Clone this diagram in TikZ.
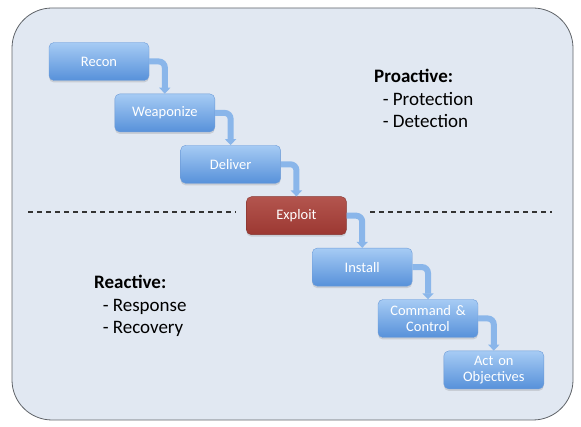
\documentclass[tikz,border=0pt]{standalone}
\usepackage{fontspec}
\setmainfont{Carlito}
\usetikzlibrary{arrows.meta,positioning,shadows}
\definecolor{panelbg}{HTML}{E1E8F2}
\definecolor{panelline}{HTML}{5F6368}
\definecolor{stagetop}{HTML}{A6CBF4}
\definecolor{stagebot}{HTML}{5791DA}
\definecolor{stageline}{HTML}{6E9CD8}
\definecolor{hittop}{HTML}{B3554E}
\definecolor{hitbot}{HTML}{9C3832}
\definecolor{hitline}{HTML}{873530}
\definecolor{pilblue}{HTML}{8AB6EA}
\tikzset{
    %Define standard arrow tip
    >={Triangle[width=11pt,length=6pt]},
    %Define style for boxes
    stage/.style={
           rectangle,
           rounded corners=5pt,
           draw=stageline, thin,
           top color=stagetop, bottom color=stagebot,
           drop shadow={shadow xshift=0pt, shadow yshift=-2pt, opacity=0.25},
           minimum width=100pt,
           minimum height=38pt,
           text width=96pt,
           inner sep=0pt,
           font=\fontsize{14.5}{16}\selectfont,
           text=white,
           align=center},
    hit/.style={
           stage,
           draw=hitline,
           top color=hittop, bottom color=hitbot},
    note/.style={
           anchor=north west,
           inner sep=0pt,
           align=left,
           font=\fontsize{19}{22.5}\selectfont},
    % Define arrow style
    pil/.style={
           ->,
           line width=6pt,
           draw=pilblue,
           rounded corners=6pt},
    cut/.style={
           line width=1.5pt,
           draw=black!80,
           dash pattern=on 5pt off 4pt}
}
\begin{document}
\begin{tikzpicture}[x=1pt,y=1pt,node distance=13pt and -34.6pt]
\useasboundingbox (0,0) rectangle (581,-427);
 %panel
\draw[fill=panelbg, draw=panelline, line width=0.8pt, rounded corners=40pt]
  (12,-8) rectangle (573,-420);
 %nodes
\node[stage] (recon) at (99,-61.5) {Recon};
\node[stage, below right=of recon] (weapon) {Weaponize};
\node[stage, below right=of weapon] (deliver) {Deliver};
\node[hit, below right=of deliver] (exploit) {Exploit};
\node[stage, below right=of exploit] (install) {Install};
\node[stage, below right=of install] (control) {Command \&\\Control};
\node[stage, below right=of control] (act) {Act on\\Objectives};
 %arrows
\draw[pil] (recon.east) -| (weapon.north);
\draw[pil] (weapon.east) -| (deliver.north);
\draw[pil] (deliver.east) -| (exploit.north);
\draw[pil] (exploit.east) -| (install.north);
\draw[pil] (install.east) -| (control.north);
\draw[pil] (control.east) -| (act.north);
 %split
\draw[cut] (28,-212) -- (236,-212);
\draw[cut] (370,-212) -- (552,-212);
 %notes
\node[note] (proactive) at (374,-69)
  {\textbf{Proactive:}\\\hspace{0.45em}- Protection\\\hspace{0.45em}- Detection};
\node[note] (reactive) at (94,-275)
  {\textbf{Reactive:}\\\hspace{0.45em}- Response\\\hspace{0.45em}- Recovery};
\end{tikzpicture}
\end{document}
